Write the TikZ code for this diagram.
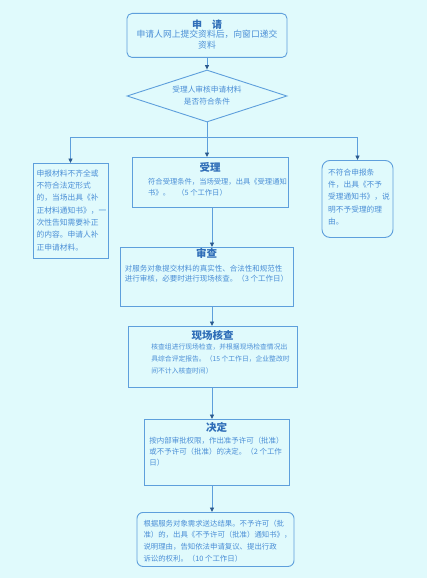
\documentclass[tikz,border=0pt]{standalone}
\usepackage{fontspec}
\setmainfont{Noto Sans CJK SC}
\usetikzlibrary{shapes.geometric,arrows.meta}
\definecolor{bgc}{HTML}{E0FAFC}
\definecolor{linec}{HTML}{5E9FDC}
\definecolor{txtc}{HTML}{4A8ED6}
\definecolor{ttlc}{HTML}{2F6EB8}
\definecolor{tipc}{HTML}{2C5A8E}
\newcommand{\ttlx}[1]{\multicolumn{1}{@{}c@{}}{\fontsize{10.5}{12}\selectfont\bfseries\color{ttlc}#1}}
\begin{document}
\begin{tikzpicture}[x=1pt,y=-1pt,
  box/.style={draw=linec,line width=0.9pt,inner sep=0pt,text=txtc,anchor=north},
  conn/.style={draw=linec,line width=0.9pt},
  arr/.style={conn,-{Triangle[width=4pt,length=4.5pt,color=tipc]}}]
\fill[bgc] (0,0) rectangle (427,578);
\useasboundingbox (0,0) rectangle (427,578);

\node[box,rounded corners=5pt,minimum width=160pt,text height=14.8pt,text depth=29.2pt,
  font=\fontsize{8.8}{11}\selectfont] (sq) at (207,13)
  {\begin{tabular}[t]{@{}c@{}}{\fontsize{10}{12}\selectfont\bfseries\color{ttlc}申　请}\\[-1.5pt]
   申请人网上提交资料后，向窗口递交\\ 资料\end{tabular}};

\node[diamond,shape aspect=3,draw=linec,line width=0.9pt,inner sep=0pt,text=txtc,
  minimum width=160pt,minimum height=52pt,font=\fontsize{7.7}{12}\selectfont] (dia) at (207,96)
  {\begin{tabular}{@{}c@{}}受理人审核申请材料\\ 是否符合条件\end{tabular}};

\node[box,minimum width=75pt,text height=12.9pt,text depth=82.1pt,
  font=\fontsize{7.75}{12.3}\selectfont] (left) at (70.5,163)
  {\begin{tabular}[t]{@{\hspace{2pt}}l@{}}申报材料不齐全或\\ 不符合法定形式\\ 的，当场出具《补\\
   正材料通知书》，一\\ 次性告知需要补正\\ 的内容。申请人补\\ 正申请材料。\end{tabular}};

\node[box,minimum width=156pt,text height=13.8pt,text depth=36.2pt,
  font=\fontsize{7.3}{11}\selectfont] (shouli) at (210,157)
  {\begin{tabular}[t]{@{\hspace{15pt}}l@{}}\ttlx{受理}\\[2pt]
   符合受理条件，当场受理，出具《受理通知\\ 书》。\quad（5 个工作日）\end{tabular}};

\node[box,rounded corners=8pt,minimum width=71pt,text height=14.9pt,text depth=62.1pt,
  font=\fontsize{7.7}{12.25}\selectfont] (right) at (357.5,160)
  {\begin{tabular}[t]{@{\hspace{3pt}}l@{}}不符合申报条\\ 件，出具《不予\\ 受理通知书》，说\\
   明不予受理的理\\ 由。\end{tabular}};

\node[box,minimum width=173pt,text height=9.8pt,text depth=49.2pt,
  font=\fontsize{7.5}{10.5}\selectfont] (shencha) at (206.5,247)
  {\begin{tabular}[t]{@{}l@{}}\ttlx{审查}\\[3.5pt]
   对服务对象提交材料的真实性、合法性和规范性\\ 进行审核，必要时进行现场核查。（3 个工作日）\end{tabular}};

\node[box,minimum width=169pt,text height=13pt,text depth=48pt,
  font=\fontsize{6.8}{12}\selectfont] (xianchang) at (212.5,326)
  {\begin{tabular}[t]{@{\hspace{16pt}}l@{}}\ttlx{现场核查}\\[-2.3pt]
   核查组进行现场检查，并根据现场检查情况出\\ 具综合评定报告。（15 个工作日，企业整改时\\
   间不计入核查时间）\end{tabular}};

\node[box,minimum width=145pt,text height=11.8pt,text depth=54.2pt,
  font=\fontsize{7.45}{11}\selectfont] (jueding) at (216.5,419)
  {\begin{tabular}[t]{@{}l@{}}\ttlx{决定}\\[1pt]
   按内部审批权限，作出准予许可（批准）\\ 或不予许可（批准）的决定。（2 个工作\\ 日）\end{tabular}};

\node[box,rounded corners=6pt,minimum width=157pt,text height=13.8pt,text depth=40.2pt,
  font=\fontsize{7.4}{11.7}\selectfont] (result) at (215.5,512)
  {\begin{tabular}[t]{@{\hspace{4pt}}l@{}}根据服务对象需求送达结果。不予许可（批\\
   准）的，出具《不予许可（批准）通知书》，\\ 说明理由，告知依法申请复议、提出行政\\
   诉讼的权利。（10 个工作日）\end{tabular}};

\coordinate (J) at (207,137.5);
\coordinate (ax) at (212,0);
\draw[arr] (sq.south) -- (dia.north);
\draw[conn] (dia.south) -- (J);
\draw[arr] (J) -- (J |- shouli.north);
\draw[arr] (J) -| (left.north);
\draw[arr] (J) -| (right.north);
\draw[arr] (shouli.south -| ax) -- (shencha.north -| ax);
\draw[arr] (shencha.south -| ax) -- (xianchang.north -| ax);
\draw[arr] (xianchang.south -| ax) -- (jueding.north -| ax);
\draw[arr] (jueding.south -| ax) -- (result.north -| ax);
\end{tikzpicture}
\end{document}
